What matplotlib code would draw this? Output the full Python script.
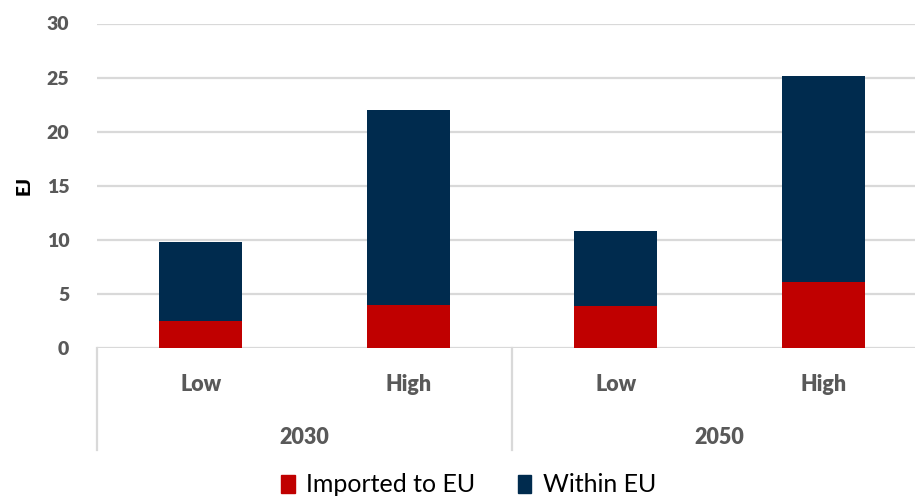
import matplotlib.pyplot as plt
from matplotlib.patches import Patch

plt.rcParams['font.family'] = ['Lato', 'DejaVu Sans']

scenarios = ['Low', 'High', 'Low', 'High']
years = ['2030', '2050']
imported = [2.45, 3.95, 3.85, 6.1]
within = [7.35, 18.05, 7.0, 19.05]

red = '#c00000'
navy = '#002b4e'
grey_txt = '#595959'
grid_col = '#d9d9d9'

fig = plt.figure(figsize=(9.15, 5), dpi=100)
ax = fig.add_axes([97 / 915, 1 - 348 / 500, 830 / 915, 324.5 / 500])

x = range(len(scenarios))
ax.bar(x, imported, width=0.4, color=red, zorder=3)
ax.bar(x, within, width=0.4, bottom=imported, color=navy, zorder=3)

ax.set_xlim(-0.5, 3.5)
ax.set_ylim(0, 30)
ax.set_yticks(range(0, 31, 5))
ax.yaxis.grid(True, color=grid_col, linewidth=1.6, zorder=0)
ax.tick_params(axis='y', length=0, pad=20, labelsize=14, labelcolor=grey_txt)
for lbl in ax.get_yticklabels():
    lbl.set_fontweight('heavy')
ax.set_ylabel('EJ', fontsize=13.5, fontweight='heavy', labelpad=10)

for s in ax.spines.values():
    s.set_visible(False)

# category axis: scenario labels, year labels, separators
ax.set_xticks([])
trans = ax.get_xaxis_transform()
for i, s in enumerate(scenarios):
    ax.text(i, -0.112, s, transform=trans, ha='center', va='center',
            fontsize=15.5, fontweight='heavy', color=grey_txt)
for j, yr in enumerate(years):
    ax.text(2 * j + 0.5, -0.275, yr, transform=trans, ha='center', va='center',
            fontsize=15.5, fontweight='heavy', color=grey_txt)
for xv in [-0.5, 1.5, 3.5]:
    ax.plot([xv, xv], [0, -0.315], transform=trans, color=grid_col,
            linewidth=1.6, clip_on=False)

handles = [Patch(color=red, label='Imported to EU'),
           Patch(color=navy, label='Within EU')]
fig.legend(handles=handles, loc='center', bbox_to_anchor=(0.512, 0.03),
           ncol=2, frameon=False, fontsize=18, handlelength=0.55,
           handleheight=0.75, handletextpad=0.45, columnspacing=1.7,
           borderpad=0.1)

fig.savefig('out.png', dpi=100)
